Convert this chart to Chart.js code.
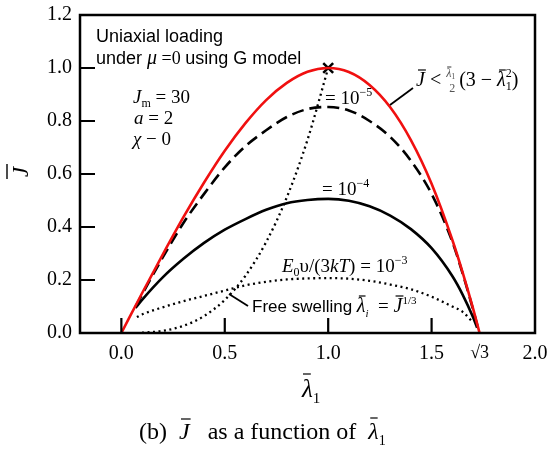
<!DOCTYPE html>
<html>
<head>
<meta charset="utf-8">
<script src="https://cdn.jsdelivr.net/npm/chart.js@4.4.0/dist/chart.umd.min.js"></script>
<style>
  html, body { margin: 0; padding: 0; background: #fff; }
</style>
</head>
<body>
<canvas id="chart" width="547" height="449"></canvas>
<script>
// Upper bound curve  J < (l/2)(3 - l^2)
const boundLam = [0, 0.1, 0.2, 0.3, 0.4, 0.5, 0.6, 0.7, 0.8, 0.9, 1.0, 1.1, 1.2, 1.3, 1.4, 1.5, 1.6, 1.65, 1.7, 1.732];
const boundJ   = [0, 0.150, 0.296, 0.437, 0.568, 0.688, 0.792, 0.879, 0.944, 0.986, 1.0, 0.985, 0.936, 0.852, 0.728, 0.563, 0.352, 0.229, 0.094, 0];

// E0v/(3kT) = 1e-5 (dashed)
const e5Lam = [0.069, 0.1, 0.2, 0.3, 0.4, 0.5, 0.6, 0.7, 0.8, 0.9, 1.0, 1.1, 1.2, 1.3, 1.4, 1.5, 1.6, 1.65, 1.7, 1.728];
const e5J   = [0.100, 0.145, 0.285, 0.415, 0.525, 0.625, 0.705, 0.765, 0.815, 0.845, 0.853, 0.840, 0.800, 0.740, 0.650, 0.525, 0.345, 0.225, 0.090, 0.008];

// E0v/(3kT) = 1e-4 (solid)
const e4Lam = [0.069, 0.1, 0.2, 0.3, 0.4, 0.5, 0.6, 0.7, 0.8, 0.9, 1.0, 1.1, 1.2, 1.3, 1.4, 1.5, 1.6, 1.65, 1.7, 1.72];
const e4J   = [0.095, 0.125, 0.210, 0.280, 0.340, 0.390, 0.430, 0.465, 0.490, 0.502, 0.506, 0.499, 0.478, 0.443, 0.392, 0.320, 0.215, 0.145, 0.060, 0.020];

// E0v/(3kT) = 1e-3 (dotted)
const e3Lam = [0.075, 0.1, 0.2, 0.3, 0.4, 0.5, 0.6, 0.7, 0.8, 0.9, 1.0, 1.1, 1.2, 1.3, 1.4, 1.5, 1.6, 1.65, 1.7];
const e3J   = [0.060, 0.070, 0.097, 0.120, 0.140, 0.160, 0.180, 0.193, 0.202, 0.206, 0.207, 0.205, 0.197, 0.183, 0.165, 0.137, 0.100, 0.080, 0.040];

// Free swelling  l_i = J^(1/3) (dotted)
const freeLam = [0.1, 0.2, 0.3, 0.4, 0.5, 0.6, 0.7, 0.8, 0.9, 1.0];
const freeJ   = [0.001, 0.008, 0.027, 0.064, 0.125, 0.216, 0.343, 0.512, 0.729, 1.0];

// Marker at the end of free swelling
const markLam = [1.0];
const markJ = [1.0];

// Axis ticks
const xTicks = [0, 0.5, 1.0, 1.5, 1.732, 2.0];
const xTickLabels = ["0.0", "0.5", "1.0", "1.5", "\u221A3", "2.0"];
const xInnerTicks = [0, 0.5, 1.0, 1.5];
const yInnerTicks = [0.2, 0.4, 0.6, 0.8, 1.0];

const SERIF = '"Liberation Serif", "Times New Roman", serif';
const SANS = '"Liberation Sans", Arial, sans-serif';

function pts(xs, ys) {
  return xs.map((x, i) => ({ x: x, y: ys[i] }));
}

function line(label, xs, ys, color, width, dash) {
  return {
    label: label,
    data: pts(xs, ys),
    borderColor: color,
    borderWidth: width,
    borderDash: dash || [],
    pointRadius: 0,
    fill: false,
    cubicInterpolationMode: "monotone",
  };
}

// draws a row of text pieces, each {t, font, dy, bar:[x0, x1, h]}
function drawRuns(ctx, x, y, runs) {
  for (const r of runs) {
    ctx.font = r.font;
    const w = ctx.measureText(r.t).width;
    ctx.fillText(r.t, x + (r.dx || 0), y + (r.dy || 0));
    if (r.bar) {
      ctx.beginPath();
      ctx.lineWidth = 1.2;
      ctx.moveTo(x + r.bar[0], y - r.bar[2]);
      ctx.lineTo(x + w + r.bar[1], y - r.bar[2]);
      ctx.stroke();
    }
    if (!r.noAdvance) x += w + (r.dx || 0);
  }
  return x;
}

const annotations = {
  id: "annotations",
  afterDatasetsDraw(chart) {
    const ctx = chart.ctx;
    const a = chart.chartArea;
    const xs = chart.scales.x;
    const ys = chart.scales.y;
    ctx.save();
    ctx.fillStyle = "#000";
    ctx.strokeStyle = "#000";

    // frame
    ctx.lineWidth = 2.5;
    ctx.strokeRect(a.left, a.top, a.right - a.left, a.bottom - a.top);

    // inner ticks
    ctx.lineWidth = 2.2;
    ctx.beginPath();
    for (const v of yInnerTicks) {
      const py = ys.getPixelForValue(v);
      ctx.moveTo(a.left, py);
      ctx.lineTo(a.left + 15, py);
    }
    for (const v of xInnerTicks) {
      const px = xs.getPixelForValue(v);
      ctx.moveTo(px, a.bottom);
      ctx.lineTo(px, a.bottom - 15);
    }
    ctx.stroke();

    ctx.textAlign = "left";
    ctx.textBaseline = "alphabetic";

    // top-left notes
    drawRuns(ctx, 96, 42, [{ t: "Uniaxial loading", font: "18px " + SANS }]);
    drawRuns(ctx, 96, 64, [
      { t: "under ", font: "18px " + SANS },
      { t: "\u03BC", font: "italic 20px " + SERIF },
      { t: " =0 ", font: "18px " + SERIF },
      { t: "using G model", font: "18px " + SANS },
    ]);

    drawRuns(ctx, 133, 103, [
      { t: "J", font: "italic 19px " + SERIF },
      { t: "m", font: "12px " + SERIF, dy: 4 },
      { t: " = 30", font: "19px " + SERIF },
    ]);
    drawRuns(ctx, 134, 124, [
      { t: "a", font: "italic 19px " + SERIF },
      { t: " = 2", font: "19px " + SERIF },
    ]);
    drawRuns(ctx, 133, 145, [
      { t: "\u03C7", font: "italic 19px " + SERIF },
      { t: " \u2212 0", font: "19px " + SERIF },
    ]);

    // curve labels
    drawRuns(ctx, 325, 104, [
      { t: "= 10", font: "19px " + SERIF },
      { t: "\u22125", font: "12px " + SERIF, dy: -8 },
    ]);
    drawRuns(ctx, 322, 195, [
      { t: "= 10", font: "19px " + SERIF },
      { t: "\u22124", font: "12px " + SERIF, dy: -8 },
    ]);
    drawRuns(ctx, 282, 272, [
      { t: "E", font: "italic 19px " + SERIF },
      { t: "0", font: "12px " + SERIF, dy: 4 },
      { t: "\u03C5/(3", font: "19px " + SERIF },
      { t: "kT", font: "italic 19px " + SERIF },
      { t: ") = 10", font: "19px " + SERIF },
      { t: "\u22123", font: "12px " + SERIF, dy: -8 },
    ]);

    // free swelling label
    ctx.lineWidth = 1.8;
    ctx.beginPath();
    ctx.moveTo(229, 294);
    ctx.lineTo(248, 306);
    ctx.stroke();
    drawRuns(ctx, 252, 312, [
      { t: "Free swelling ", font: "17px " + SANS },
      { t: "\u03BB", font: "italic 20px " + SERIF, bar: [2, 0, 16] },
      { t: "i", font: "italic 11px " + SERIF, dy: 5 },
      { t: "  = ", font: "19px " + SERIF },
      { t: "J", font: "italic 20px " + SERIF, bar: [2, 1, 16] },
      { t: "1/3", font: "11px " + SERIF, dy: -8 },
    ]);

    // bound label
    ctx.lineWidth = 1.8;
    ctx.beginPath();
    ctx.moveTo(390, 105);
    ctx.lineTo(413, 88);
    ctx.stroke();
    let x = drawRuns(ctx, 416, 86, [
      { t: "J", font: "italic 20px " + SERIF, bar: [2, 1, 16] },
      { t: " < ", font: "20px " + SERIF },
    ]);
    ctx.save();
    ctx.fillStyle = "#555";
    ctx.strokeStyle = "#555";
    drawRuns(ctx, x, 77, [
      { t: "\u03BB", font: "italic 12px " + SERIF, bar: [1, 0, 10] },
      { t: "1", font: "8px " + SERIF, dy: 2 },
    ]);
    drawRuns(ctx, x + 3, 92, [{ t: "2", font: "12px " + SERIF }]);
    ctx.restore();
    drawRuns(ctx, x + 13, 86, [
      { t: "(3 \u2212 ", font: "20px " + SERIF },
      { t: "\u03BB", font: "italic 20px " + SERIF, bar: [2, 0, 16] },
      { t: "1", font: "12px " + SERIF, dy: 4, noAdvance: true },
      { t: "2", font: "12px " + SERIF, dy: -9 },
      { t: ")", font: "20px " + SERIF },
    ]);

    // y axis title
    ctx.save();
    ctx.translate(28, 172);
    ctx.rotate(-Math.PI / 2);
    ctx.textAlign = "center";
    ctx.font = "italic 23px " + SERIF;
    ctx.fillText("J", 0, 0);
    ctx.lineWidth = 1.4;
    ctx.beginPath();
    ctx.moveTo(-7, -21);
    ctx.lineTo(8, -21);
    ctx.stroke();
    ctx.restore();

    // x axis title
    drawRuns(ctx, 302, 397, [
      { t: "\u03BB", font: "italic 25px " + SERIF, bar: [1, -2, 23] },
      { t: "1", font: "15px " + SERIF, dy: 6 },
    ]);

    // caption
    drawRuns(ctx, 139, 439, [
      { t: "(b)  ", font: "24px " + SERIF },
      { t: "J", font: "italic 24px " + SERIF, bar: [2, 1, 20] },
      { t: "   as a function of  ", font: "24px " + SERIF },
      { t: "\u03BB", font: "italic 24px " + SERIF, bar: [2, -1, 21] },
      { t: "1", font: "14px " + SERIF, dy: 6 },
    ]);

    ctx.restore();
  },
};

new Chart(document.getElementById("chart").getContext("2d"), {
  type: "line",
  data: {
    datasets: [
      line("bound", boundLam, boundJ, "#f01010", 2.6),
      {
        label: "mark",
        data: pts(markLam, markJ),
        showLine: false,
        pointStyle: "crossRot",
        pointRadius: 7,
        pointBorderWidth: 2.5,
        borderColor: "#000",
        backgroundColor: "#000",
      },
      line("1e-5", e5Lam, e5J, "#000", 2.6, [12, 6]),
      line("1e-4", e4Lam, e4J, "#000", 2.6),
      line("1e-3", e3Lam, e3J, "#000", 2.3, [2, 3.5]),
      line("free", freeLam, freeJ, "#000", 2.3, [2, 3.5]),
    ],
  },
  options: {
    responsive: false,
    animation: false,
    devicePixelRatio: 1,
    layout: { padding: { top: 15, right: 12, left: 0, bottom: 0 } },
    plugins: { legend: { display: false }, tooltip: { enabled: false } },
    scales: {
      x: {
        type: "linear",
        min: -0.2,
        max: 2.0,
        afterBuildTicks: (scale) => {
          scale.ticks = xTicks.map((v) => ({ value: v }));
        },
        afterFit: (scale) => {
          scale.height = 116;
          scale.paddingLeft = 0;
          scale.paddingRight = 0;
        },
        grid: { display: false, drawTicks: false },
        border: { display: false },
        ticks: {
          color: "#000",
          padding: 9,
          maxRotation: 0,
          autoSkip: false,
          font: (c) => ({ family: SERIF, size: c.index === 4 ? 18 : 20 }),
          callback: (v, i) => xTickLabels[i],
        },
      },
      y: {
        type: "linear",
        min: 0,
        max: 1.2,
        afterFit: (scale) => {
          scale.width = 80;
          scale.paddingTop = 0;
          scale.paddingBottom = 0;
        },
        grid: { display: false, drawTicks: false },
        border: { display: false },
        ticks: {
          color: "#000",
          padding: 8,
          stepSize: 0.2,
          font: { family: SERIF, size: 20 },
          callback: (v) => v.toFixed(1),
        },
      },
    },
  },
  plugins: [annotations],
});
</script>
</body>
</html>
